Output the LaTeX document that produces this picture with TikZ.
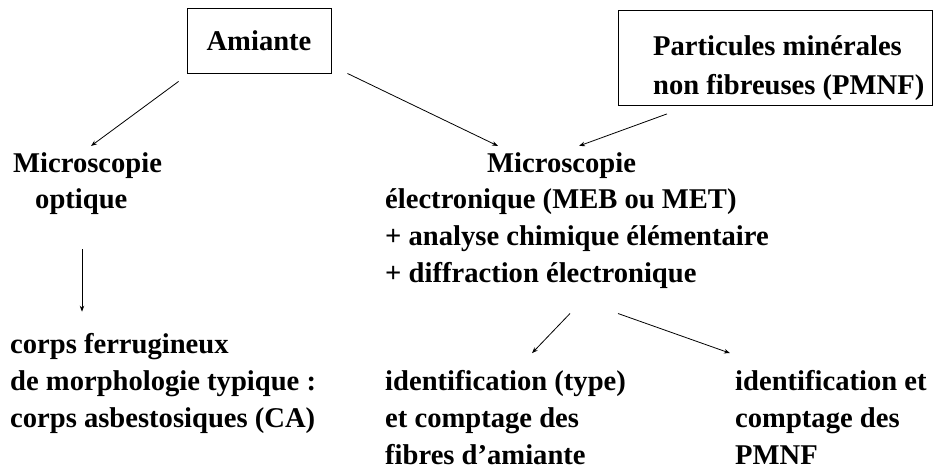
\documentclass[tikz,border=0pt]{standalone}
\usepackage{fontspec}
\setmainfont{Liberation Serif}
\usetikzlibrary{arrows.meta}
\tikzset{
  txt/.style={anchor=base west, inner sep=0pt, font=\fontsize{28.6}{39}\selectfont\bfseries},
  boxed/.style={draw, line width=0.9pt, inner sep=0pt},
  arr/.style={line width=0.8pt, -{Stealth[length=6pt,width=4.5pt]}}
}
\begin{document}
\begin{tikzpicture}[x=1pt,y=-1pt]
\useasboundingbox (0,0) rectangle (935,475);
% boxes
\node[boxed, minimum width=144pt, minimum height=65pt, font=\fontsize{28.6}{39}\selectfont\bfseries] (amiante) at (259,40.5) {Amiante};
\node[boxed, anchor=north west, minimum width=314pt, minimum height=95pt] (pmnf) at (618,10) {};
\node[txt] (pmnf1) at (653,55) {Particules minérales};
\node[txt] (pmnf2) at (653,94) {non fibreuses (PMNF)};
% left column
\node[txt] (mo1) at (13,172) {Microscopie};
\node[txt] (mo2) at (35,208.5) {optique};
\node[txt] (cf1) at (10,353) {corps ferrugineux};
\node[txt] (cf2) at (10,390) {de morphologie typique :};
\node[txt] (cf3) at (10,427) {corps asbestosiques (CA)};
% right column
\node[txt] (me1) at (487,172) {Microscopie};
\node[txt] (me2) at (385,208.5) {électronique (MEB ou MET)};
\node[txt] (me3) at (385,245.5) {+ analyse chimique élémentaire};
\node[txt] (me4) at (385,282) {+ diffraction électronique};
\node[txt] (id1) at (385,390) {identification (type)};
\node[txt] (id2) at (385,427) {et comptage des};
\node[txt] (id3) at (385,464) {fibres d’amiante};
\node[txt] (ip1) at (735,390) {identification et};
\node[txt] (ip2) at (735,427) {comptage des};
\node[txt] (ip3) at (735,464) {PMNF};
% connectors
\draw[arr] ([shift={(-8,8)}]amiante.south west) -- ([shift={(78,-6)}]mo1.north west);
\draw[arr] ([shift={(16,0)}]amiante.south east) -- ([shift={(11,-6)}]me1.north west);
\draw[arr] ([shift={(49,8)}]pmnf.south west) -- ([shift={(92,-6)}]me1.north west);
\draw[arr] ([shift={(47,40.5)}]mo2.base west) -- ([shift={(72,-21)}]cf1.north west);
\draw[arr] ([shift={(185,31.5)}]me4.base west) -- ([shift={(147,-16.5)}]id1.north west);
\draw[arr] ([shift={(233,31.5)}]me4.base west) -- ([shift={(-5,-16.5)}]ip1.north west);
\end{tikzpicture}
\end{document}
